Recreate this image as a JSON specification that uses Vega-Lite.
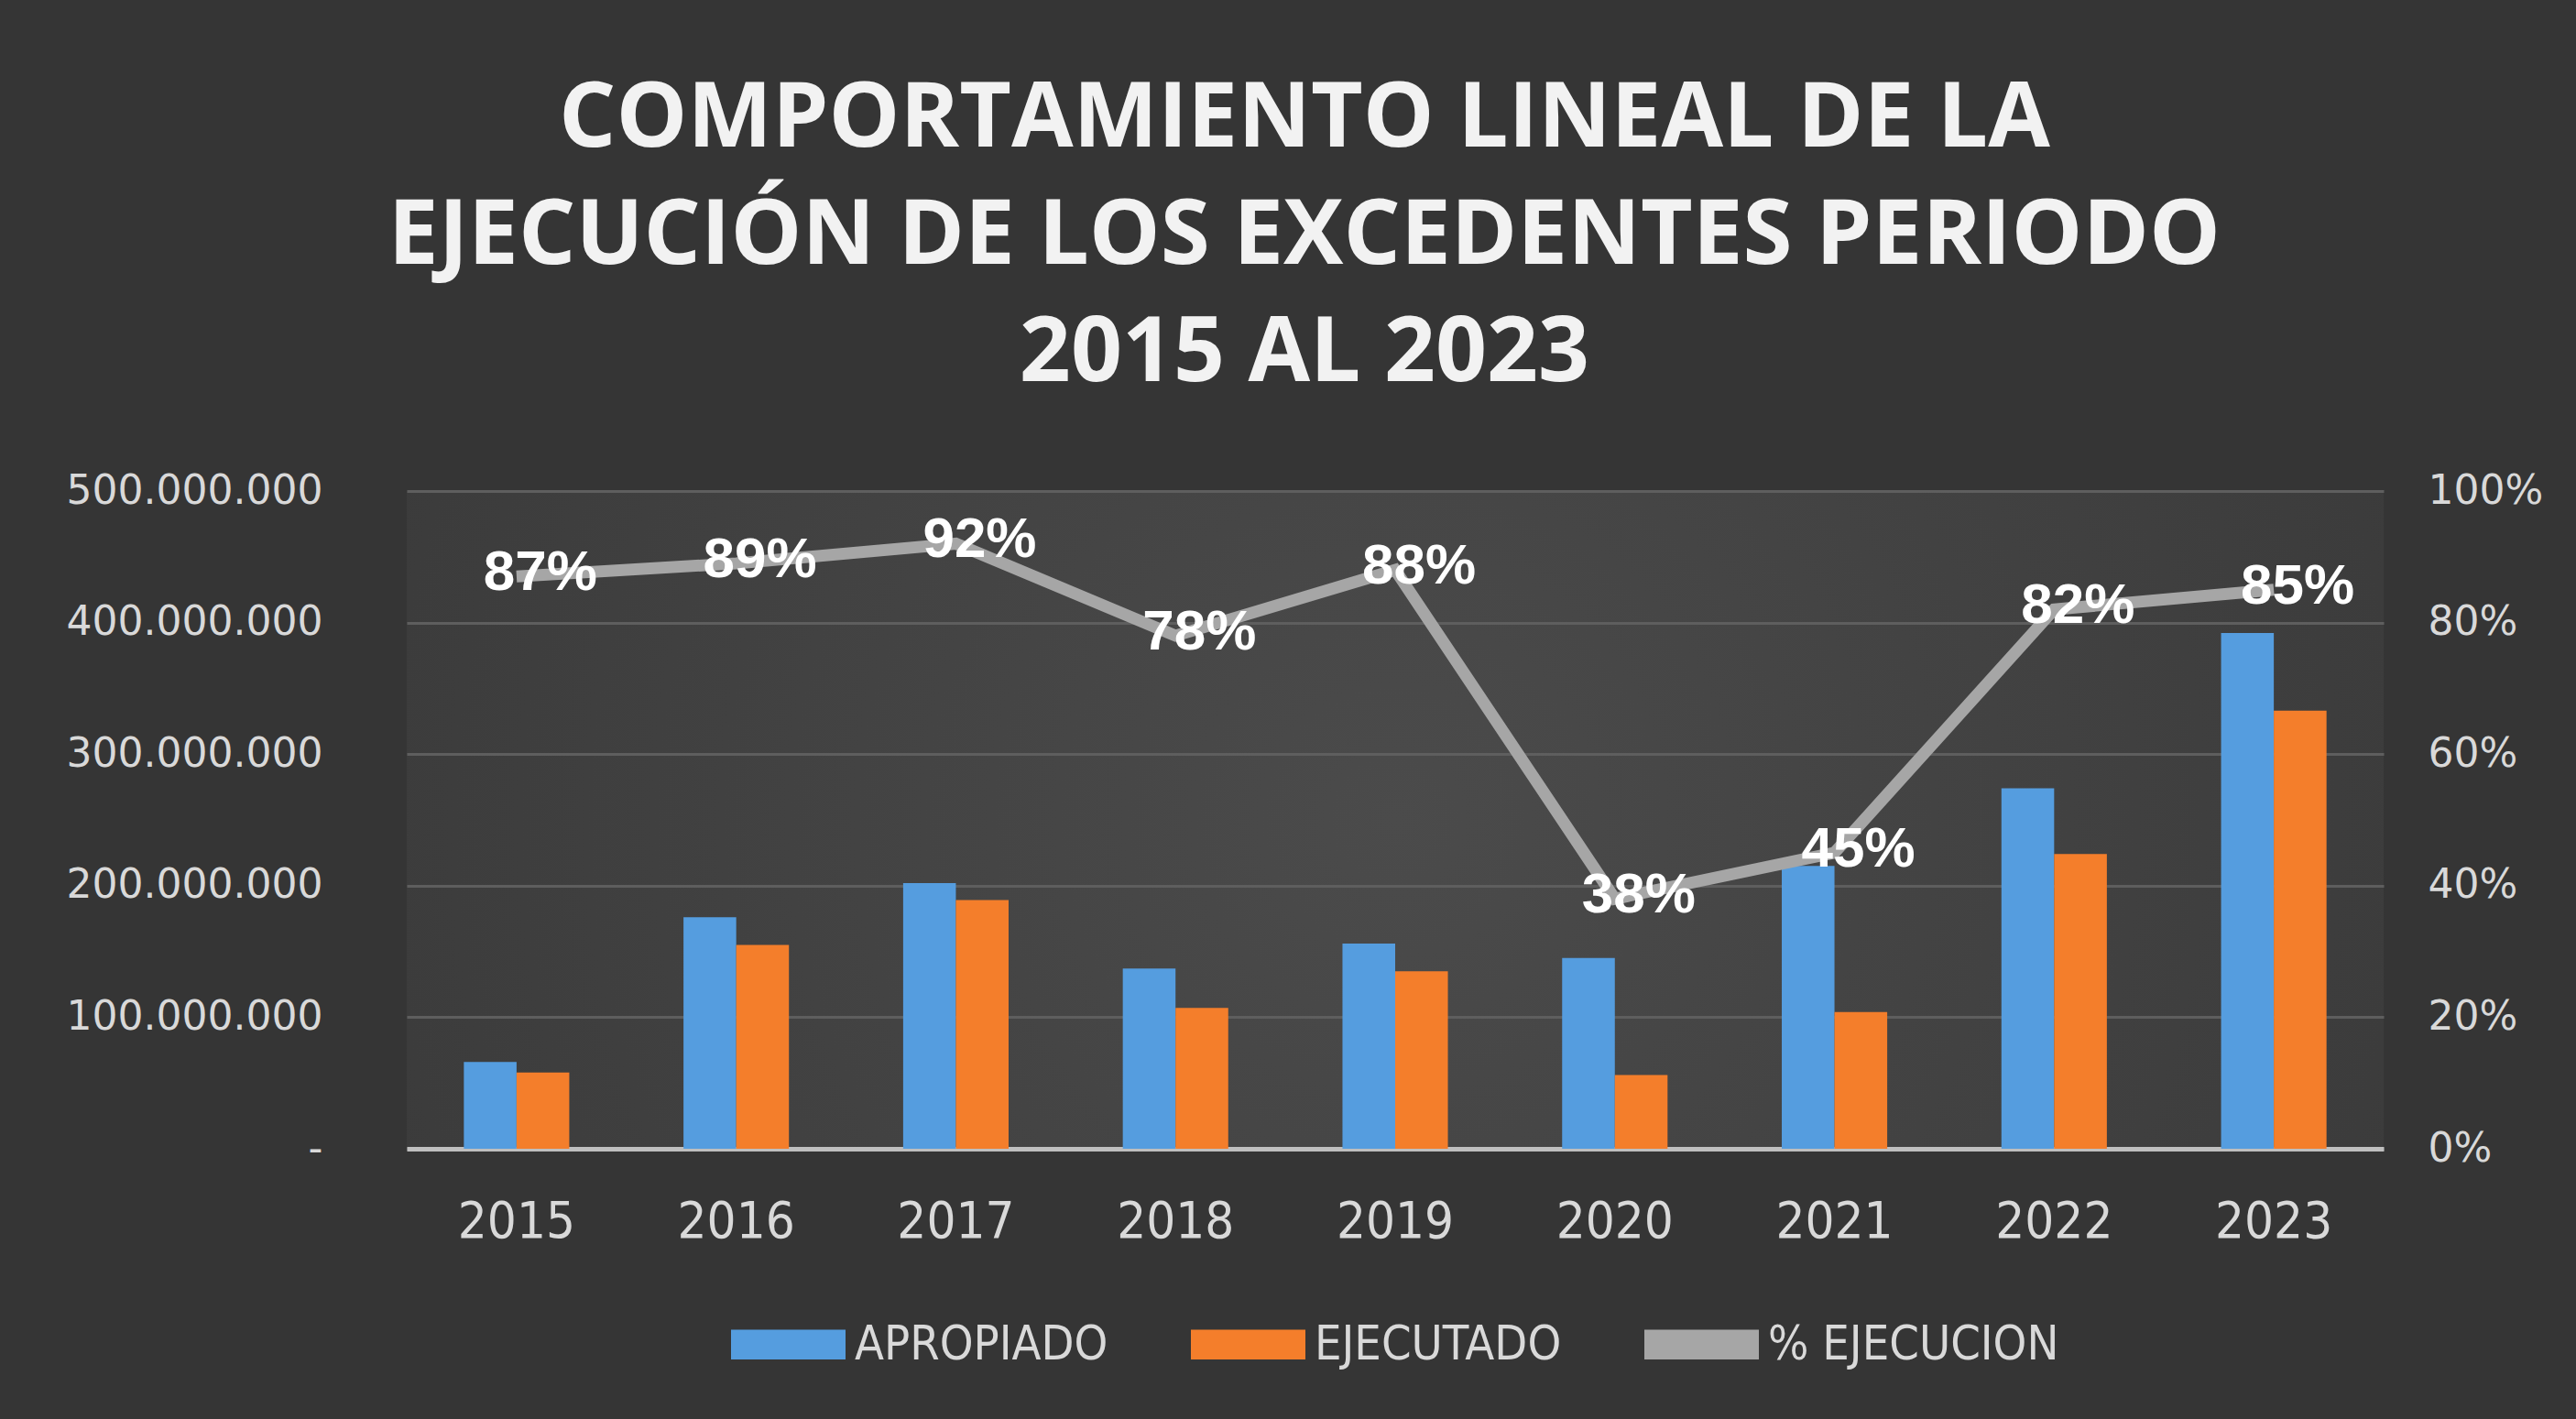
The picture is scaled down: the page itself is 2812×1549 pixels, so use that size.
{
  "$schema": "https://vega.github.io/schema/vega-lite/v6.json",
  "width": 2812,
  "height": 1549,
  "autosize": {"type": "fit", "contains": "padding"},
  "padding": {"left": 72, "right": 36, "top": 82, "bottom": 55},
  "background": "#353535",
  "config": {
    "locale": {"number": {"decimal": ",", "thousands": ".", "grouping": [3], "currency": ["$", ""]}},
    "view": {
      "stroke": null,
      "fill": {"gradient": "radial", "x1": 0.5, "y1": 0.5, "r1": 0, "x2": 0.5, "y2": 0.5, "r2": 0.75,
        "stops": [{"offset": 0, "color": "#4b4b4b"}, {"offset": 1, "color": "#353535"}]}
    },
    "legend": {"layout": {"bottom": {"anchor": "middle"}}}
  },
  "title": {
    "text": ["COMPORTAMIENTO LINEAL DE LA", "EJECUCIÓN DE LOS EXCEDENTES PERIODO", "2015 AL 2023"],
    "font": "Open Sans",
    "fontWeight": "bold",
    "fontSize": 98,
    "lineHeight": 128,
    "color": "#f2f2f2",
    "anchor": "middle",
    "frame": "bounds",
    "offset": 77
  },
  "data": {
    "values": [
      {"year": "2015", "APROPIADO": 66000000, "EJECUTADO": 58000000, "pct": 0.87},
      {"year": "2016", "APROPIADO": 176000000, "EJECUTADO": 155000000, "pct": 0.89},
      {"year": "2017", "APROPIADO": 202000000, "EJECUTADO": 189000000, "pct": 0.92},
      {"year": "2018", "APROPIADO": 137000000, "EJECUTADO": 107000000, "pct": 0.78},
      {"year": "2019", "APROPIADO": 156000000, "EJECUTADO": 135000000, "pct": 0.88},
      {"year": "2020", "APROPIADO": 145000000, "EJECUTADO": 56000000, "pct": 0.38},
      {"year": "2021", "APROPIADO": 215000000, "EJECUTADO": 104000000, "pct": 0.45},
      {"year": "2022", "APROPIADO": 274000000, "EJECUTADO": 224000000, "pct": 0.82},
      {"year": "2023", "APROPIADO": 392000000, "EJECUTADO": 333000000, "pct": 0.85}
    ]
  },
  "encoding": {
    "x": {
      "field": "year",
      "type": "nominal",
      "scale": {"paddingInner": 0.52, "paddingOuter": 0.26},
      "axis": {
        "title": null,
        "labelAngle": 0,
        "labelFont": "'DejaVu Sans Condensed', Roboto, sans-serif",
        "labelFontSize": 56,
        "labelColor": "#d9d9d9",
        "labelPadding": 52,
        "labelLimit": 0,
        "ticks": false,
        "domainColor": "#bfbfbf",
        "domainWidth": 5,
        "grid": false
      }
    }
  },
  "layer": [
    {
      "transform": [{"fold": ["APROPIADO", "EJECUTADO"], "as": ["serie", "valor"]}],
      "mark": {"type": "bar"},
      "encoding": {
        "xOffset": {"field": "serie", "type": "nominal", "sort": ["APROPIADO", "EJECUTADO"], "scale": {"paddingInner": 0}},
        "y": {
          "field": "valor",
          "type": "quantitative",
          "scale": {"domain": [0, 500000000]},
          "axis": {
            "title": null,
            "orient": "left",
            "values": [0, 100000000, 200000000, 300000000, 400000000, 500000000],
            "format": ",.0f",
            "labelExpr": "datum.value === 0 ? '-' : datum.label",
            "labelFont": "DejaVu Sans",
            "labelFontSize": 44,
            "labelColor": "#d9d9d9",
            "labelPadding": 92,
            "labelLimit": 0,
            "ticks": false,
            "domain": false,
            "grid": true,
            "gridColor": "#5e5e5e",
            "gridWidth": 3
          }
        },
        "color": {
          "field": "serie",
          "type": "nominal",
          "scale": {
            "domain": ["APROPIADO", "EJECUTADO", "% EJECUCION"],
            "range": ["#559ddf", "#f47e2b", "#a6a6a6"]
          },
          "legend": {
            "title": null,
            "orient": "bottom",
            "direction": "horizontal",
            "symbolType": "M-1,-0.26H1V0.26H-1Z",
            "symbolSize": 15625,
            "symbolStrokeWidth": 0,
            "labelFont": "'DejaVu Sans Condensed', Roboto, sans-serif",
            "labelFontSize": 52,
            "labelColor": "#d9d9d9",
            "labelLimit": 0,
            "labelOffset": 10,
            "columnPadding": 90,
            "offset": 44
          }
        }
      }
    },
    {
      "layer": [
        {
          "mark": {"type": "line", "strokeWidth": 13, "strokeJoin": "miter"},
          "encoding": {
            "y": {
              "field": "pct",
              "type": "quantitative",
              "scale": {"domain": [0, 1]},
              "axis": {
                "title": null,
                "orient": "right",
                "values": [0, 0.2, 0.4, 0.6, 0.8, 1],
                "format": ".0%",
                "labelFont": "DejaVu Sans",
                "labelFontSize": 44,
                "labelColor": "#d9d9d9",
                "labelPadding": 48,
                "labelLimit": 0,
                "ticks": false,
                "domain": false,
                "grid": false
              }
            },
            "color": {"datum": "% EJECUCION"}
          }
        },
        {
          "mark": {"type": "text", "font": "Liberation Sans", "fontWeight": "bold", "fontSize": 62, "color": "#ffffff", "dx": 26, "dy": -4, "align": "center", "baseline": "middle"},
          "encoding": {
            "y": {"field": "pct", "type": "quantitative"},
            "text": {"field": "pct", "type": "quantitative", "format": ".0%"}
          }
        }
      ]
    }
  ],
  "resolve": {"scale": {"y": "independent"}}
}
